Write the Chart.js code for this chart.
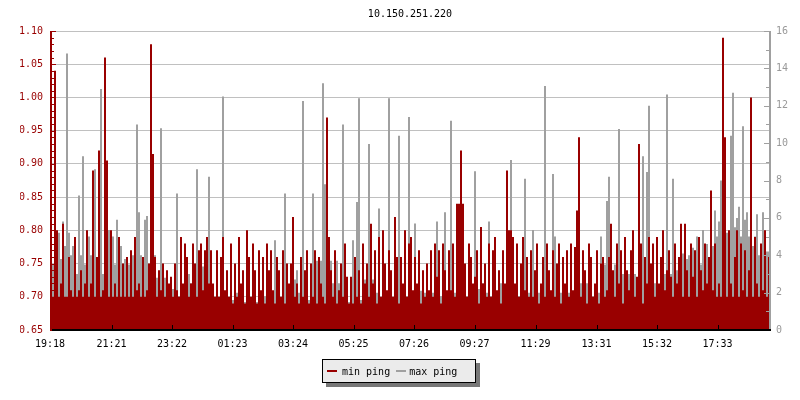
<!DOCTYPE html>
<html>
<head>
<meta charset="utf-8">
<title>10.150.251.220</title>
<script src="https://cdn.jsdelivr.net/npm/chart.js@4.4.1/dist/chart.umd.min.js"></script>
<style>
    html, body { margin: 0; padding: 0; background: #ffffff; }
    #wrap { position: relative; width: 800px; height: 400px; }
    #pingLegend {
        position: absolute; left: 322px; top: 359px; width: 152px; height: 22px;
        border: 1px solid #000; background: #ebebeb; box-shadow: 4px 4px 0 #777777;
        display: flex; align-items: center;
        font: 10px "DejaVu Sans Mono", monospace; color: #000;
    }
    #pingLegend .sw { display: inline-block; width: 10px; height: 2px; margin-right: 5px; }
    #pingLegend .item { display: flex; align-items: center; }
</style>
</head>
<body>
<div id="wrap">
    <canvas id="pingChart" width="800" height="400"></canvas>
    <div id="pingLegend"></div>
</div>
<script>
// one sample every 4 minutes, starting 19:18
const sampleMinutes = 4;

// min ping (ms), left axis
const minPing = [
    0.78, 0.70, 1.04, 0.80, 0.70, 0.72, 0.81, 0.70, 0.70, 0.76,
    0.71, 0.70, 0.79, 0.70, 0.71, 0.74, 0.70, 0.72, 0.80, 0.70,
    0.72, 0.89, 0.70, 0.76, 0.92, 0.70, 0.71, 1.06, 0.905, 0.70,
    0.80, 0.70, 0.72, 0.70, 0.79, 0.70, 0.75, 0.70, 0.76, 0.70,
    0.77, 0.70, 0.79, 0.71, 0.72, 0.70, 0.76, 0.70, 0.71, 0.75,
    1.08, 0.915, 0.76, 0.70, 0.74, 0.71, 0.75, 0.70, 0.74, 0.72,
    0.73, 0.70, 0.75, 0.71, 0.70, 0.79, 0.72, 0.78, 0.76, 0.70,
    0.72, 0.78, 0.75, 0.70, 0.77, 0.78, 0.71, 0.77, 0.79, 0.72,
    0.77, 0.72, 0.70, 0.77, 0.70, 0.76, 0.79, 0.71, 0.74, 0.70,
    0.78, 0.69, 0.75, 0.70, 0.79, 0.72, 0.74, 0.69, 0.80, 0.76,
    0.70, 0.78, 0.74, 0.69, 0.77, 0.71, 0.76, 0.69, 0.78, 0.74,
    0.77, 0.71, 0.69, 0.76, 0.74, 0.70, 0.77, 0.69, 0.75, 0.72,
    0.75, 0.82, 0.70, 0.72, 0.69, 0.76, 0.70, 0.74, 0.77, 0.69,
    0.75, 0.70, 0.77, 0.69, 0.76, 0.72, 0.70, 0.69, 0.97, 0.79,
    0.74, 0.70, 0.77, 0.69, 0.71, 0.75, 0.70, 0.78, 0.73, 0.69,
    0.73, 0.69, 0.76, 0.70, 0.74, 0.69, 0.78, 0.72, 0.75, 0.70,
    0.81, 0.72, 0.77, 0.69, 0.79, 0.70, 0.80, 0.75, 0.71, 0.77,
    0.74, 0.70, 0.82, 0.76, 0.69, 0.76, 0.72, 0.80, 0.70, 0.78,
    0.79, 0.71, 0.76, 0.72, 0.77, 0.69, 0.74, 0.70, 0.75, 0.71,
    0.77, 0.70, 0.78, 0.73, 0.77, 0.69, 0.78, 0.74, 0.71, 0.77,
    0.71, 0.78, 0.70, 0.84, 0.84, 0.92, 0.84, 0.75, 0.70, 0.78,
    0.76, 0.72, 0.73, 0.77, 0.69, 0.805, 0.72, 0.75, 0.70, 0.78,
    0.70, 0.77, 0.79, 0.71, 0.74, 0.69, 0.77, 0.72, 0.89, 0.80,
    0.80, 0.79, 0.72, 0.78, 0.70, 0.75, 0.79, 0.71, 0.76, 0.70,
    0.77, 0.70, 0.74, 0.78, 0.69, 0.72, 0.76, 0.70, 0.78, 0.74,
    0.71, 0.77, 0.70, 0.75, 0.78, 0.69, 0.76, 0.72, 0.77, 0.70,
    0.78, 0.71, 0.775, 0.83, 0.94, 0.70, 0.77, 0.74, 0.69, 0.78,
    0.76, 0.70, 0.72, 0.77, 0.69, 0.75, 0.76, 0.70, 0.71, 0.76,
    0.81, 0.74, 0.70, 0.78, 0.72, 0.77, 0.69, 0.79, 0.74, 0.71,
    0.77, 0.80, 0.70, 0.73, 0.93, 0.78, 0.69, 0.76, 0.72, 0.79,
    0.75, 0.78, 0.70, 0.79, 0.72, 0.76, 0.80, 0.71, 0.74, 0.77,
    0.73, 0.70, 0.78, 0.72, 0.76, 0.81, 0.70, 0.81, 0.74, 0.70,
    0.78, 0.73, 0.77, 0.70, 0.79, 0.74, 0.71, 0.78, 0.72, 0.76,
    0.86, 0.71, 0.78, 0.70, 0.72, 0.70, 1.09, 0.94, 0.70, 0.80,
    0.72, 0.70, 0.76, 0.80, 0.70, 0.78, 0.71, 0.77, 0.70, 0.74,
    1.00, 0.70, 0.79, 0.72, 0.70, 0.78, 0.71, 0.80, 0.70, 0.76
];

// max ping (ms), right axis
const maxPing = [
    2.8, 3.5, 3.0, 4.2, 5.2, 3.8, 5.8, 4.5, 14.8, 5.2,
    4.0, 4.5, 3.5, 3.0, 7.2, 4.0, 9.3, 3.5, 3.2, 5.0,
    4.0, 4.5, 8.6, 3.5, 5.0, 12.9, 3.0, 4.0, 3.5, 5.35,
    4.5, 5.0, 3.5, 5.9, 3.0, 4.5, 3.2, 3.8, 2.5, 3.5,
    3.0, 4.0, 3.5, 11.0, 6.3, 4.0, 3.0, 5.9, 6.1, 3.5,
    3.0, 2.5, 4.0, 2.8, 2.2, 10.8, 2.0, 2.8, 2.4, 2.0,
    2.0, 2.2, 1.8, 7.3, 1.8, 2.0, 2.2, 1.8, 2.0, 3.0,
    2.5, 1.8, 2.0, 8.6, 2.0, 1.8, 3.4, 2.0, 4.8, 8.2,
    2.5, 2.0, 1.6, 1.8, 1.6, 2.0, 12.5, 1.6, 1.5, 1.6,
    1.5, 1.6, 1.5, 2.0, 1.6, 1.5, 2.2, 1.5, 1.6, 1.5,
    1.6, 1.5, 1.8, 1.5, 1.5, 1.6, 1.5, 1.8, 1.5, 1.6,
    1.5, 1.6, 4.8, 1.5, 1.8, 1.5, 1.6, 7.3, 1.5, 1.6,
    1.5, 1.6, 2.7, 3.2, 2.0, 2.8, 12.25, 1.8, 1.5, 1.6,
    1.6, 7.3, 2.0, 3.7, 2.5, 3.7, 13.2, 7.8, 3.7, 2.0,
    3.7, 2.5, 1.8, 3.7, 2.5, 1.6, 11.0, 1.5, 1.6, 1.5,
    1.6, 4.8, 1.8, 6.85, 12.4, 1.6, 1.8, 2.7, 2.2, 9.95,
    2.2, 2.7, 1.6, 2.0, 6.5, 1.6, 2.0, 1.8, 1.6, 12.4,
    1.8, 1.6, 6.0, 2.0, 10.4, 2.0, 1.6, 2.2, 1.8, 11.4,
    1.8, 2.0, 5.7, 1.8, 1.6, 2.1, 1.8, 2.0, 1.6, 1.8,
    1.8, 2.0, 1.8, 5.8, 2.0, 1.8, 2.2, 6.3, 1.8, 2.0,
    11.2, 2.2, 2.0, 5.2, 2.5, 2.5, 2.0, 2.2, 1.8, 2.0,
    1.8, 2.0, 8.5, 2.0, 2.2, 1.6, 2.5, 1.8, 2.0, 5.8,
    1.8, 2.0, 2.2, 2.0, 1.8, 2.5, 1.8, 2.0, 2.5, 2.2,
    9.1, 2.0, 1.8, 2.0, 1.8, 2.1, 2.2, 8.1, 1.8, 2.0,
    1.8, 5.35, 2.0, 1.8, 2.0, 1.8, 2.2, 13.06, 2.0, 1.8,
    2.0, 8.35, 5.0, 2.0, 1.8, 2.0, 1.8, 2.2, 1.8, 2.0,
    1.8, 2.0, 1.8, 2.2, 2.0, 2.5, 1.8, 2.2, 2.5, 1.8,
    2.0, 1.8, 2.2, 1.8, 2.0, 5.0, 2.0, 3.5, 6.9, 8.2,
    3.5, 2.5, 3.5, 2.0, 10.75, 2.5, 3.0, 2.5, 2.2, 3.0,
    2.5, 2.2, 3.0, 2.0, 2.2, 2.5, 9.3, 2.2, 8.45, 12.0,
    2.0, 3.0, 2.5, 3.4, 2.2, 2.5, 2.2, 3.0, 12.6, 3.4,
    3.0, 8.1, 2.5, 3.2, 2.8, 3.5, 4.1, 3.0, 3.8, 4.0,
    3.5, 4.4, 3.0, 5.0, 4.2, 3.5, 5.35, 4.0, 4.6, 3.8,
    5.5, 4.5, 6.4, 5.0, 5.8, 8.0, 6.0, 6.5, 5.2, 4.8,
    10.4, 12.7, 5.5, 6.0, 6.6, 5.0, 10.9, 5.9, 6.3, 5.0,
    6.3, 4.5, 5.0, 6.2, 4.0, 4.5, 6.3, 3.5, 4.2, 4.2
];

// x axis labels and their offsets in minutes from 19:18
const timeLabels = ['19:18', '21:21', '23:22', '01:23', '03:24', '05:25',
                    '07:26', '09:27', '11:29', '13:31', '15:32', '17:33'];
const timeOffsets = [0, 123, 244, 365, 486, 607, 728, 849, 971, 1093, 1214, 1335];

const RED = '#990000';
const GREY = '#a0a0a0';
const FONT = { family: '"DejaVu Sans Mono", monospace', size: 10 };

document.addEventListener('DOMContentLoaded', function() {
    const span = minPing.length * sampleMinutes;

    function toPoints(values) {
        const pts = values.map((v, i) => ({ x: i * sampleMinutes, y: v }));
        pts.push({ x: span, y: values[values.length - 1] }); // close the last step
        return pts;
    }

    // rrdtool-style axis lines and inward tick marks
    const axisMarks = {
        id: 'axisMarks',
        afterDatasetsDraw(chart) {
            const { ctx, chartArea: a } = chart;
            const { x, y, y1 } = chart.scales;
            ctx.save();
            ctx.lineWidth = 1;

            ctx.strokeStyle = RED;
            for (let k = 65; k <= 110; k++) {
                const py = Math.round(y.getPixelForValue(k / 100)) + 0.5;
                const len = k % 5 === 0 ? 6 : 4;
                ctx.beginPath();
                ctx.moveTo(a.left, py);
                ctx.lineTo(a.left + len, py);
                ctx.stroke();
            }

            ctx.strokeStyle = GREY;
            for (let k = 0; k <= 16; k++) {
                const py = Math.round(y1.getPixelForValue(k)) + 0.5;
                const len = k % 2 === 0 ? 6 : 4;
                ctx.beginPath();
                ctx.moveTo(a.right, py);
                ctx.lineTo(a.right - len, py);
                ctx.stroke();
            }

            ctx.strokeStyle = '#000';
            timeOffsets.forEach(m => {
                const px = Math.round(x.getPixelForValue(m)) + 0.5;
                ctx.beginPath();
                ctx.moveTo(px, a.bottom);
                ctx.lineTo(px, a.bottom - 5);
                ctx.stroke();
            });

            ctx.lineWidth = 2;
            ctx.strokeStyle = GREY;
            ctx.beginPath();
            ctx.moveTo(a.right, a.top);
            ctx.lineTo(a.right, a.bottom);
            ctx.stroke();

            ctx.strokeStyle = '#000';
            ctx.beginPath();
            ctx.moveTo(a.left, a.bottom);
            ctx.lineTo(a.right + 1, a.bottom);
            ctx.stroke();

            ctx.strokeStyle = RED;
            ctx.beginPath();
            ctx.moveTo(a.left + 1, a.top);
            ctx.lineTo(a.left + 1, a.bottom + 1);
            ctx.stroke();
            ctx.restore();
        }
    };

    const chart = new Chart(document.getElementById('pingChart'), {
        type: 'line',
        data: {
            datasets: [{
                label: 'min ping',
                data: toPoints(minPing),
                yAxisID: 'y',
                stepped: true,
                fill: 'start',
                backgroundColor: RED,
                borderColor: 'transparent',
                borderWidth: 0,
                pointRadius: 0
            }, {
                label: 'max ping',
                data: toPoints(maxPing),
                yAxisID: 'y1',
                stepped: true,
                fill: 'start',
                backgroundColor: GREY,
                borderColor: 'transparent',
                borderWidth: 0,
                pointRadius: 0
            }]
        },
        options: {
            responsive: false,
            animation: false,
            devicePixelRatio: 1,
            layout: { padding: { left: 20, right: 0, top: 0, bottom: 50 } },
            plugins: {
                legend: { display: false },
                tooltip: { enabled: false },
                title: {
                    display: true,
                    text: '10.150.251.220',
                    color: '#000',
                    font: { family: FONT.family, size: 10, weight: 'normal' },
                    padding: { top: 8, bottom: 11 }
                }
            },
            scales: {
                x: {
                    type: 'linear',
                    min: 0,
                    max: span,
                    grid: { display: false },
                    border: { display: false },
                    afterBuildTicks: function(scale) {
                        scale.ticks = timeOffsets.map(v => ({ value: v }));
                    },
                    afterFit: function(scale) { scale.height = 20; },
                    ticks: {
                        autoSkip: false,
                        maxRotation: 0,
                        padding: 0,
                        color: '#000',
                        font: FONT,
                        callback: function(value, index) { return timeLabels[index]; }
                    }
                },
                y: {
                    position: 'left',
                    min: 0.65,
                    max: 1.10,
                    border: { display: false },
                    grid: { color: '#c0c0c0', lineWidth: 1, drawTicks: false },
                    afterFit: function(scale) { scale.width = 30; },
                    ticks: {
                        stepSize: 0.05,
                        padding: 7,
                        color: RED,
                        font: FONT,
                        callback: function(value) { return value.toFixed(2); }
                    }
                },
                y1: {
                    position: 'right',
                    min: 0,
                    max: 16,
                    border: { display: false },
                    grid: { display: false, drawTicks: false },
                    afterFit: function(scale) { scale.width = 30; },
                    ticks: {
                        stepSize: 2,
                        padding: 6,
                        color: '#999999',
                        font: FONT
                    }
                }
            }
        },
        plugins: [axisMarks]
    });

    // boxed legend below the plot, built from the dataset labels
    const legendBox = document.getElementById('pingLegend');
    chart.data.datasets.forEach(function(ds, i) {
        const item = document.createElement('span');
        item.className = 'item';
        item.style.marginLeft = i === 0 ? '4px' : '6px';
        const sw = document.createElement('span');
        sw.className = 'sw';
        sw.style.background = ds.backgroundColor;
        sw.style.marginRight = i === 0 ? '5px' : '3px';
        const txt = document.createElement('span');
        txt.textContent = ds.label;
        item.appendChild(sw);
        item.appendChild(txt);
        legendBox.appendChild(item);
    });
});
</script>
</body>
</html>
